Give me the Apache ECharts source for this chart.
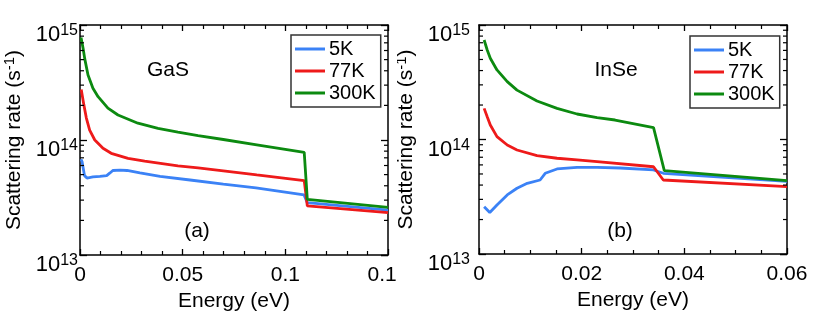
<!DOCTYPE html>
<html><head><meta charset="utf-8">
<script src="https://cdn.jsdelivr.net/npm/echarts@6/dist/echarts.min.js"></script>
<style>
html,body{margin:0;padding:0;background:#fff;width:830px;height:314px;overflow:hidden;}
#a{position:absolute;left:0;top:0;width:397px;height:314px;}
#b{position:absolute;left:397px;top:0;width:433px;height:314px;}
</style></head>
<body><div id="a"></div><div id="b"></div>
<script>
// ---------- data ----------
const seriesNames = ['5K', '77K', '300K'];
const yMinorTicks = [2e13,3e13,4e13,5e13,6e13,7e13,8e13,9e13,2e14,3e14,4e14,5e14,6e14,7e14,8e14,9e14];

// GaS (a)
const gasE5   = [0.0005, 0.001, 0.0022, 0.0034, 0.0063, 0.0097, 0.013, 0.0146, 0.016, 0.0195, 0.0229, 0.0292, 0.039, 0.0536, 0.0698, 0.0857, 0.1091, 0.1107, 0.15];
const gasR5   = [6.8e13, 6.5e13, 4.9e13, 4.67e13, 4.77e13, 4.83e13, 4.9e13, 5.17e13, 5.43e13, 5.48e13, 5.43e13, 5.17e13, 4.82e13, 4.49e13, 4.14e13, 3.83e13, 3.33e13, 2.85e13, 2.46e13];
const gasE77  = [0.0006, 0.0019, 0.0031, 0.0047, 0.0072, 0.0112, 0.0152, 0.0234, 0.0315, 0.0477, 0.0575, 0.0698, 0.0861, 0.1092, 0.1107, 0.15];
const gasR77  = [2.75e14, 2.01e14, 1.55e14, 1.22e14, 1.0e14, 8.47e13, 7.66e13, 6.93e13, 6.55e13, 5.95e13, 5.72e13, 5.4e13, 4.97e13, 4.43e13, 2.67e13, 2.34e13];
const gasE300 = [0.0005, 0.0015, 0.0023, 0.0039, 0.0063, 0.0088, 0.0136, 0.0185, 0.0282, 0.038, 0.0477, 0.0575, 0.0698, 0.0861, 0.1092, 0.1107, 0.15];
const gasR300 = [7.8e14, 6.27e14, 5.1e14, 3.67e14, 2.82e14, 2.38e14, 1.89e14, 1.65e14, 1.40e14, 1.26e14, 1.17e14, 1.094e14, 1.01e14, 9.08e13, 7.8e13, 3.05e13, 2.6e13];

// InSe (b)
const inseE5   = [0.001, 0.0021, 0.0035, 0.0055, 0.0074, 0.0094, 0.0119, 0.0129, 0.0152, 0.0191, 0.023, 0.0275, 0.034, 0.0359, 0.06];
const inseR5   = [2.59e13, 2.3e13, 2.68e13, 3.28e13, 3.75e13, 4.14e13, 4.43e13, 5.07e13, 5.53e13, 5.71e13, 5.71e13, 5.64e13, 5.42e13, 5.07e13, 4.3e13];
const inseE77  = [0.001, 0.0016, 0.0022, 0.0035, 0.0055, 0.0074, 0.0113, 0.0152, 0.0191, 0.023, 0.034, 0.0359, 0.06];
const inseR77  = [1.87e14, 1.58e14, 1.34e14, 1.06e14, 8.95e13, 8.1e13, 7.22e13, 6.86e13, 6.63e13, 6.4e13, 5.78e13, 4.43e13, 3.87e13];
const inseE300 = [0.001, 0.0016, 0.0022, 0.0035, 0.0055, 0.0074, 0.0113, 0.0152, 0.0191, 0.023, 0.0265, 0.034, 0.0361, 0.06];
const inseR300 = [7.4e14, 6.05e14, 5.12e14, 4.05e14, 3.2e14, 2.7e14, 2.17e14, 1.87e14, 1.67e14, 1.55e14, 1.48e14, 1.27e14, 5.35e13, 4.37e13];

// ---------- styling ----------
const FONT = "'Liberation Sans', Arial, Helvetica, sans-serif";
const COLORS = ['#3b82f6', '#ee1a1a', '#0c8a10'];

function zip(xs, ys) { return xs.map((x, i) => [x, ys[i]]); }

function build(el, p) {
  const chart = echarts.init(document.getElementById(el), null, {renderer: 'canvas'});
  const axisLine = {show: true, onZero: false, lineStyle: {color: '#000', width: 1.5}};
  const xBase = {
    type: 'value', min: 0, max: p.xMax, interval: p.xInterval,
    axisLine: axisLine,
    axisTick: {show: true, inside: true, length: 6, lineStyle: {color: '#000', width: 1.3}},
    minorTick: {show: true, splitNumber: p.xMinorSplit, length: 4, lineStyle: {color: '#000', width: 1.2}},
    splitLine: {show: false}, minorSplitLine: {show: false}
  };
  const yBase = {
    type: 'log', logBase: 10, min: 1e13, max: 1e15,
    axisLine: axisLine,
    axisTick: {show: true, inside: true, length: 7, lineStyle: {color: '#000', width: 1.3}},
    splitLine: {show: false}
  };
  const series = [
    {name: seriesNames[0], data: zip(p.e5, p.r5)},
    {name: seriesNames[1], data: zip(p.e77, p.r77)},
    {name: seriesNames[2], data: zip(p.e300, p.r300)}
  ].map((s, i) => ({
    type: 'line', name: s.name, data: s.data, showSymbol: false, symbol: 'none',
    lineStyle: {color: COLORS[i], width: 2.8}, itemStyle: {color: COLORS[i]},
    xAxisIndex: 0, yAxisIndex: 0, z: 3 + i, clip: true
  }));
  series.push({
    type: 'custom', name: 'minor', xAxisIndex: 0, yAxisIndex: 0, silent: true, z: 10,
    data: yMinorTicks.map(v => [0, v]),
    renderItem: function (params, api) {
      const y = api.coord([api.value(0), api.value(1)])[1];
      const cs = params.coordSys;
      const st = {stroke: '#000', lineWidth: 1.2};
      return {type: 'group', children: [
        {type: 'line', shape: {x1: cs.x, y1: y, x2: cs.x + 4, y2: y}, style: st},
        {type: 'line', shape: {x1: cs.x + cs.width, y1: y, x2: cs.x + cs.width - 4, y2: y}, style: st}
      ]};
    }
  });
  chart.setOption({
    animation: false,
    backgroundColor: 'transparent',
    textStyle: {fontFamily: FONT},
    grid: {left: p.gl, right: p.gr, top: 25, bottom: p.gb, containLabel: false, outerBoundsMode: 'none'},
    legend: {
      data: seriesNames, orient: 'vertical', left: p.legLeft, top: p.legTop,
      icon: 'rect', itemWidth: 30, itemHeight: 3, itemGap: 2,
      padding: [4, 5, 4, 4], borderColor: '#333', borderWidth: 1.5, backgroundColor: '#fff',
      textStyle: {fontSize: 20, color: '#000', fontFamily: FONT, padding: [0, 0, 0, -1]},
      selectedMode: false
    },
    xAxis: [
      Object.assign({}, xBase, {
        position: 'bottom',
        axisLabel: {show: true, fontSize: 21, color: '#000', fontFamily: FONT, margin: 10},
        name: 'Energy (eV)', nameLocation: 'middle', nameGap: 34,
        nameTextStyle: {fontSize: 21, color: '#000', fontFamily: FONT}
      }),
      Object.assign({}, xBase, {position: 'top', axisLabel: {show: false}})
    ],
    yAxis: [
      Object.assign({}, yBase, {
        position: 'left',
        axisLabel: {
          show: true, margin: p.ylMargin, color: '#000', fontFamily: FONT,
          padding: [20, 0, 0, 0],
          formatter: function (v) { return '{b|10}{s|' + Math.round(Math.log10(v)) + '}'; },
          rich: {
            b: {fontSize: 22, color: '#000', fontFamily: FONT, lineHeight: 24},
            s: {fontSize: 16, color: '#000', fontFamily: FONT, verticalAlign: 'top', lineHeight: 14}
          }
        },
        name: '{t|Scattering rate (s}{s|-1}{t|)}', nameLocation: 'middle', nameGap: p.yNameGap,
        nameTextStyle: {
          rich: {
            t: {fontSize: 21, color: '#000', fontFamily: FONT, lineHeight: 24},
            s: {fontSize: 15, color: '#000', fontFamily: FONT, verticalAlign: 'top', lineHeight: 14}
          }
        }
      }),
      Object.assign({}, yBase, {position: 'right', axisLabel: {show: false}})
    ],
    graphic: [
      {type: 'text', x: p.tagX, y: 70, style: {text: p.tag, font: '21px ' + FONT, fill: '#000', align: 'center', verticalAlign: 'middle'}, z: 20},
      {type: 'text', x: p.panX, y: 231, style: {text: p.panel, font: '21px ' + FONT, fill: '#000', align: 'center', verticalAlign: 'middle'}, z: 20}
    ],
    series: series
  });
  return chart;
}

build('a', {
  xMax: 0.15, xInterval: 0.05, xMinorSplit: 5,
  gl: 80, gr: 9, gb: 59, legLeft: 291, legTop: 35, ylMargin: 2, yNameGap: 52,
  tag: 'GaS', tagX: 168, panel: '(a)', panX: 197,
  e5: gasE5, r5: gasR5, e77: gasE77, r77: gasR77, e300: gasE300, r300: gasR300
});
build('b', {
  xMax: 0.06, xInterval: 0.02, xMinorSplit: 4,
  gl: 82, gr: 43, gb: 60, legLeft: 293, legTop: 36, ylMargin: 9, yNameGap: 51,
  tag: 'InSe', tagX: 219, panel: '(b)', panX: 223,
  e5: inseE5, r5: inseR5, e77: inseE77, r77: inseR77, e300: inseE300, r300: inseR300
});
</script>
</body></html>
